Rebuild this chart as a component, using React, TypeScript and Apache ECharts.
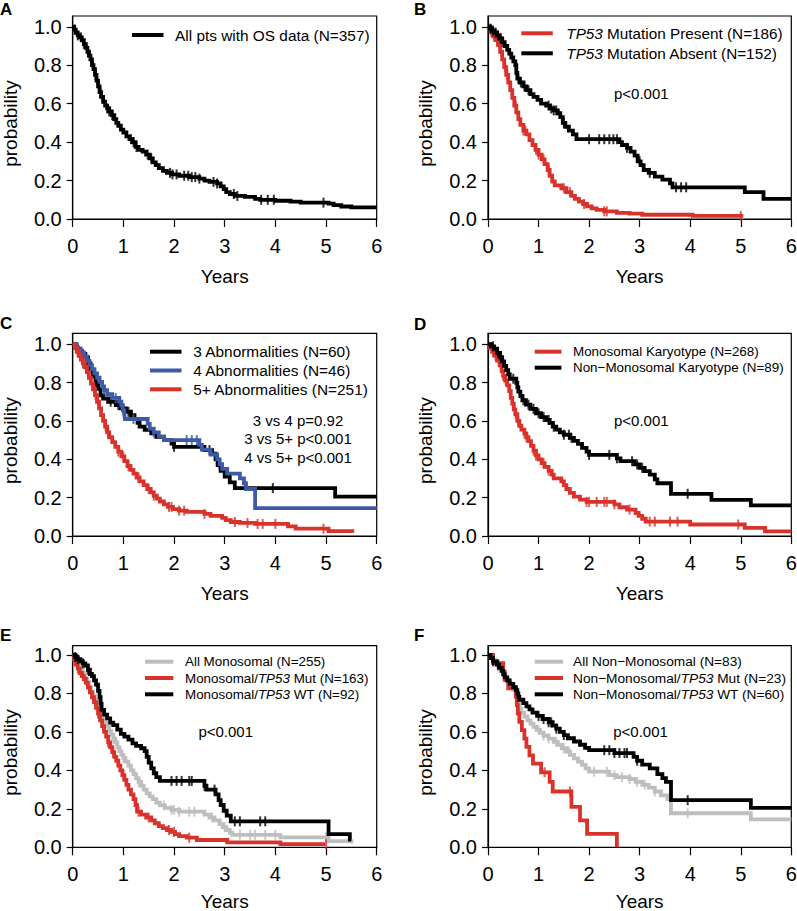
import React, { useEffect, useRef } from 'react';
import * as echarts from 'echarts';

const FONT = '"Liberation Sans", Arial, Helvetica, sans-serif';
const RED = '#d9322b';
const BLUE = '#3c5aa8';
const GREY = '#bebebe';
const BLACK = '#000000';

const PROB_TICKS = [0, 0.2, 0.4, 0.6, 0.8, 1.0];

// ---------- Panel A ----------
const A_ALL = [[0,1],[0.03,0.985],[0.06,0.97],[0.1,0.955],[0.14,0.945],[0.18,0.93],[0.22,0.91],[0.26,0.89],[0.29,0.87],[0.32,0.85],[0.35,0.83],[0.38,0.8],[0.41,0.78],[0.44,0.75],[0.47,0.72],[0.5,0.69],[0.53,0.66],[0.56,0.635],[0.6,0.61],[0.64,0.59],[0.68,0.575],[0.72,0.56],[0.77,0.54],[0.82,0.52],[0.86,0.5],[0.9,0.485],[0.95,0.465],[1.0,0.45],[1.06,0.43],[1.12,0.415],[1.18,0.4],[1.24,0.375],[1.3,0.36],[1.38,0.35],[1.45,0.335],[1.52,0.315],[1.58,0.295],[1.64,0.28],[1.7,0.265],[1.78,0.25],[1.86,0.24],[1.96,0.232],[2.1,0.225],[2.3,0.218],[2.5,0.21],[2.6,0.2],[2.7,0.193],[2.85,0.185],[2.92,0.17],[2.98,0.155],[3.03,0.14],[3.1,0.13],[3.2,0.12],[3.4,0.115],[3.6,0.105],[3.7,0.1],[4.0,0.095],[4.3,0.09],[4.5,0.085],[5.05,0.08],[5.15,0.072],[5.3,0.065],[5.5,0.06],[6.0,0.06]];
const A_ALL_CENS = [0.04,0.1,0.16,0.22,0.34,0.4,0.45,0.52,0.55,0.68,0.72,0.78,1.15,1.2,1.26,1.48,1.55,1.92,1.97,2.05,2.2,2.28,2.35,2.42,2.5,2.78,2.85,3.18,3.25,3.72,3.85,3.97,4.95];

// ---------- Panel B ----------
const B_MUT = [[0,1],[0.05,0.975],[0.1,0.95],[0.15,0.93],[0.2,0.905],[0.24,0.87],[0.28,0.83],[0.32,0.79],[0.36,0.75],[0.4,0.71],[0.44,0.67],[0.48,0.63],[0.52,0.59],[0.56,0.555],[0.6,0.52],[0.64,0.49],[0.7,0.46],[0.76,0.44],[0.82,0.41],[0.88,0.385],[0.94,0.36],[1.0,0.335],[1.06,0.31],[1.12,0.285],[1.18,0.255],[1.22,0.225],[1.27,0.195],[1.32,0.175],[1.45,0.16],[1.55,0.14],[1.65,0.12],[1.72,0.105],[1.8,0.09],[1.88,0.078],[1.96,0.066],[2.05,0.055],[2.15,0.047],[2.3,0.04],[2.55,0.032],[2.8,0.028],[3.05,0.022],[4.05,0.016],[5.05,0.016]];
const B_MUT_CENS = [0.06,0.12,0.18,0.34,0.38,0.55,0.7,0.74,0.95,1.0,1.1,1.2,1.5,1.62,1.9,2.3,2.35,5.0];
const B_WT = [[0,1],[0.04,0.99],[0.08,0.98],[0.13,0.97],[0.18,0.955],[0.23,0.94],[0.28,0.92],[0.33,0.9],[0.38,0.88],[0.42,0.86],[0.46,0.84],[0.5,0.82],[0.54,0.8],[0.56,0.76],[0.58,0.73],[0.63,0.71],[0.7,0.69],[0.76,0.67],[0.84,0.65],[0.9,0.635],[0.98,0.62],[1.05,0.6],[1.15,0.59],[1.22,0.575],[1.3,0.565],[1.38,0.55],[1.43,0.53],[1.48,0.5],[1.53,0.48],[1.6,0.46],[1.68,0.44],[1.75,0.415],[2.6,0.4],[2.65,0.385],[2.75,0.37],[2.82,0.35],[2.9,0.33],[2.96,0.3],[3.02,0.28],[3.08,0.255],[3.18,0.24],[3.3,0.22],[3.45,0.205],[3.6,0.185],[3.65,0.165],[5.08,0.14],[5.45,0.105],[6,0.105]];
const B_WT_CENS = [0.05,0.1,0.15,0.2,0.25,0.3,0.6,0.65,0.72,0.8,1.2,1.25,1.3,1.35,1.5,2.0,2.2,2.3,2.4,2.48,2.55,2.75,3.0,3.2,3.72,3.82,3.92];

// ---------- Panel C ----------
const C_3 = [[0,1],[0.05,0.983],[0.1,0.967],[0.15,0.95],[0.25,0.933],[0.3,0.9],[0.35,0.867],[0.4,0.833],[0.45,0.8],[0.5,0.767],[0.55,0.733],[0.6,0.717],[0.7,0.7],[0.85,0.683],[0.95,0.666],[1.05,0.648],[1.15,0.63],[1.22,0.61],[1.28,0.59],[1.32,0.57],[1.42,0.553],[1.55,0.535],[1.65,0.517],[1.8,0.5],[1.95,0.482],[2.0,0.465],[2.6,0.448],[2.75,0.43],[2.82,0.4],[2.86,0.37],[2.92,0.34],[3.0,0.31],[3.1,0.28],[3.2,0.25],[5.18,0.205],[6,0.205]];
const C_3_CENS = [0.2,0.45,0.75,0.9,1.0,1.1,2.0,2.7,2.85,2.9,3.95];
const C_4 = [[0,1],[0.08,0.978],[0.15,0.957],[0.22,0.935],[0.28,0.913],[0.33,0.891],[0.38,0.87],[0.43,0.848],[0.48,0.826],[0.53,0.804],[0.58,0.78],[0.62,0.76],[0.68,0.74],[0.78,0.72],[0.92,0.7],[0.96,0.68],[0.99,0.655],[1.02,0.632],[1.03,0.61],[1.48,0.585],[1.52,0.56],[1.6,0.54],[1.7,0.52],[1.8,0.5],[2.5,0.475],[2.55,0.45],[2.72,0.425],[2.85,0.4],[2.9,0.375],[2.95,0.35],[3.05,0.325],[3.3,0.3],[3.38,0.275],[3.42,0.245],[3.6,0.145],[6,0.145]];
const C_4_CENS = [0.1,0.18,0.25,0.62,0.85,1.0,1.2,1.6,2.25,2.35,2.45];
const C_5 = [[0,1],[0.04,0.98],[0.08,0.96],[0.12,0.94],[0.16,0.92],[0.2,0.9],[0.24,0.88],[0.28,0.855],[0.32,0.825],[0.36,0.795],[0.4,0.765],[0.44,0.735],[0.48,0.7],[0.52,0.665],[0.56,0.63],[0.6,0.6],[0.64,0.57],[0.68,0.54],[0.72,0.515],[0.78,0.49],[0.84,0.465],[0.9,0.44],[0.96,0.415],[1.02,0.39],[1.08,0.365],[1.14,0.345],[1.2,0.325],[1.26,0.305],[1.32,0.285],[1.4,0.265],[1.47,0.245],[1.54,0.228],[1.6,0.21],[1.66,0.195],[1.72,0.18],[1.8,0.165],[1.88,0.152],[1.98,0.14],[2.1,0.132],[2.25,0.126],[2.6,0.115],[2.72,0.105],[2.95,0.095],[3.02,0.083],[3.12,0.073],[3.3,0.068],[3.6,0.063],[4.25,0.05],[4.4,0.038],[5.05,0.025],[5.52,0.017]];
const C_5_CENS = [0.1,0.2,0.3,0.45,0.5,0.65,0.7,0.9,1.0,1.1,1.3,1.5,1.6,1.9,1.95,2.1,2.2,2.6,3.2,3.45,3.65,3.75,4.0,4.95];

// ---------- Panel D ----------
const D_MONO = [[0,1],[0.04,0.98],[0.08,0.96],[0.13,0.94],[0.18,0.915],[0.23,0.89],[0.27,0.86],[0.3,0.835],[0.34,0.81],[0.38,0.785],[0.42,0.755],[0.45,0.72],[0.48,0.69],[0.51,0.66],[0.54,0.635],[0.58,0.6],[0.62,0.575],[0.66,0.555],[0.72,0.535],[0.76,0.515],[0.8,0.495],[0.85,0.47],[0.9,0.445],[0.95,0.42],[1.0,0.4],[1.06,0.38],[1.12,0.36],[1.2,0.34],[1.26,0.32],[1.3,0.3],[1.45,0.285],[1.5,0.265],[1.55,0.245],[1.62,0.225],[1.7,0.205],[1.82,0.19],[1.95,0.178],[2.5,0.165],[2.6,0.15],[2.75,0.138],[2.92,0.12],[2.98,0.105],[3.05,0.09],[3.12,0.075],[4.0,0.06],[5.08,0.042],[5.48,0.024],[6,0.024]];
const D_MONO_CENS = [0.1,0.15,0.3,0.35,0.55,0.6,0.72,0.76,0.9,0.95,1.1,1.2,1.95,2.0,2.15,2.3,2.35,2.5,2.8,3.2,3.3,3.6,3.75,4.95];
const D_NON = [[0,1],[0.06,0.989],[0.12,0.977],[0.18,0.955],[0.24,0.932],[0.28,0.91],[0.32,0.887],[0.36,0.865],[0.4,0.843],[0.43,0.82],[0.56,0.798],[0.58,0.775],[0.6,0.753],[0.64,0.73],[0.68,0.708],[0.75,0.685],[0.84,0.663],[0.95,0.64],[1.05,0.62],[1.15,0.605],[1.22,0.59],[1.28,0.57],[1.35,0.555],[1.42,0.54],[1.5,0.528],[1.62,0.512],[1.7,0.496],[1.78,0.48],[1.86,0.46],[1.95,0.44],[2.0,0.423],[2.55,0.405],[2.62,0.39],[2.9,0.373],[3.0,0.355],[3.1,0.338],[3.2,0.32],[3.3,0.295],[3.35,0.275],[3.62,0.22],[4.42,0.188],[5.2,0.16],[6,0.16]];
const D_NON_CENS = [0.1,0.2,0.25,0.5,0.7,0.8,0.9,1.0,1.1,1.2,1.3,1.5,1.6,1.65,2.0,2.4,2.55,2.85,2.95,3.05,3.95];

// ---------- Panel E ----------
const E_ALL = [[0,1],[0.04,0.985],[0.08,0.965],[0.12,0.945],[0.16,0.925],[0.2,0.905],[0.24,0.88],[0.28,0.86],[0.32,0.835],[0.36,0.81],[0.4,0.79],[0.44,0.765],[0.48,0.74],[0.52,0.715],[0.56,0.69],[0.6,0.67],[0.64,0.65],[0.68,0.63],[0.72,0.605],[0.76,0.585],[0.8,0.565],[0.84,0.545],[0.88,0.52],[0.92,0.5],[0.96,0.48],[1.0,0.465],[1.04,0.445],[1.1,0.425],[1.15,0.4],[1.2,0.38],[1.25,0.36],[1.3,0.34],[1.35,0.32],[1.4,0.3],[1.46,0.28],[1.52,0.265],[1.58,0.25],[1.65,0.232],[1.72,0.218],[1.82,0.205],[1.95,0.195],[2.1,0.185],[2.6,0.17],[2.7,0.155],[2.8,0.14],[2.9,0.12],[2.96,0.105],[3.03,0.09],[3.1,0.075],[3.15,0.065],[4.1,0.052],[5.05,0.032],[5.5,0.02]];
const E_ALL_CENS = [0.3,0.45,0.6,0.7,0.8,1.0,1.3,1.8,1.95,2.0,2.1,2.3,2.4,2.75,3.0,3.3,3.5,3.6,3.8,4.0,5.0];
const E_MUT = [[0,1],[0.03,0.975],[0.06,0.95],[0.1,0.93],[0.14,0.905],[0.18,0.89],[0.22,0.875],[0.26,0.855],[0.3,0.83],[0.34,0.805],[0.38,0.78],[0.42,0.755],[0.46,0.725],[0.5,0.695],[0.54,0.66],[0.58,0.63],[0.62,0.6],[0.66,0.575],[0.7,0.545],[0.74,0.52],[0.78,0.495],[0.82,0.47],[0.86,0.45],[0.9,0.425],[0.94,0.4],[0.98,0.375],[1.02,0.35],[1.06,0.325],[1.1,0.3],[1.15,0.275],[1.2,0.25],[1.24,0.22],[1.27,0.185],[1.35,0.17],[1.45,0.155],[1.55,0.14],[1.62,0.125],[1.7,0.11],[1.78,0.1],[1.86,0.09],[1.94,0.08],[2.02,0.068],[2.1,0.058],[2.25,0.05],[2.45,0.038],[3.05,0.026],[4.1,0.016],[4.98,0.016]];
const E_MUT_CENS = [0.1,0.2,0.5,0.6,0.7,0.8,1.0,1.3,1.5,1.9,2.0,2.3,5.0];
const E_WT = [[0,1],[0.05,0.989],[0.1,0.978],[0.15,0.967],[0.2,0.956],[0.25,0.945],[0.3,0.923],[0.34,0.901],[0.38,0.89],[0.42,0.868],[0.46,0.846],[0.5,0.813],[0.53,0.78],[0.55,0.747],[0.57,0.714],[0.62,0.69],[0.68,0.67],[0.74,0.648],[0.8,0.635],[0.88,0.612],[0.95,0.59],[1.02,0.575],[1.1,0.56],[1.18,0.54],[1.25,0.527],[1.35,0.515],[1.42,0.5],[1.46,0.47],[1.5,0.44],[1.55,0.41],[1.6,0.385],[1.65,0.365],[1.72,0.345],[2.6,0.32],[2.64,0.3],[2.82,0.275],[2.88,0.245],[2.92,0.22],[2.98,0.19],[3.04,0.165],[3.12,0.135],[5.05,0.068],[5.47,0.04],[5.5,0.04]];
const E_WT_CENS = [0.05,0.1,0.2,0.3,1.95,2.05,2.15,2.3,2.35,2.6,2.8,3.2,3.3,3.7,3.8];

// ---------- Panel F ----------
const F_ALL = [[0,1],[0.05,0.988],[0.1,0.976],[0.15,0.964],[0.2,0.94],[0.25,0.916],[0.3,0.892],[0.35,0.868],[0.4,0.855],[0.45,0.843],[0.5,0.82],[0.55,0.795],[0.58,0.77],[0.6,0.745],[0.63,0.72],[0.66,0.7],[0.72,0.68],[0.78,0.66],[0.84,0.643],[0.9,0.626],[0.96,0.61],[1.03,0.595],[1.1,0.58],[1.2,0.565],[1.3,0.548],[1.38,0.532],[1.46,0.515],[1.55,0.498],[1.62,0.48],[1.7,0.462],[1.78,0.445],[1.86,0.428],[1.93,0.41],[2.0,0.393],[2.4,0.375],[2.55,0.365],[2.8,0.355],[2.92,0.34],[3.05,0.325],[3.18,0.31],[3.3,0.29],[3.42,0.27],[3.55,0.25],[3.62,0.177],[5.2,0.145],[6,0.145]];
const F_ALL_CENS = [0.1,0.2,1.0,1.1,1.2,1.35,1.5,1.6,2.1,2.35,2.5,2.65,2.8,2.95,3.1,3.3,3.95];
const F_MUT = [[0,1],[0.1,0.957],[0.3,0.913],[0.33,0.87],[0.4,0.826],[0.55,0.783],[0.57,0.739],[0.59,0.696],[0.62,0.652],[0.67,0.609],[0.72,0.565],[0.76,0.522],[0.82,0.478],[0.89,0.435],[1.05,0.39],[1.22,0.34],[1.28,0.29],[1.65,0.21],[1.82,0.14],[1.96,0.07],[2.55,0]];
const F_MUT_CENS = [1.12,1.62];
const F_WT = [[0,1],[0.05,0.983],[0.1,0.967],[0.17,0.95],[0.22,0.933],[0.27,0.917],[0.3,0.9],[0.33,0.883],[0.38,0.867],[0.43,0.85],[0.5,0.833],[0.55,0.817],[0.58,0.8],[0.6,0.783],[0.62,0.767],[0.7,0.75],[0.76,0.733],[0.82,0.717],[0.88,0.7],[0.97,0.683],[1.08,0.667],[1.2,0.65],[1.28,0.633],[1.35,0.617],[1.42,0.6],[1.5,0.583],[1.58,0.567],[1.7,0.55],[1.82,0.533],[1.92,0.517],[2.0,0.505],[2.5,0.49],[2.88,0.47],[2.95,0.45],[3.05,0.43],[3.2,0.41],[3.35,0.38],[3.45,0.36],[3.52,0.34],[3.62,0.245],[5.2,0.205],[6,0.205]];
const F_WT_CENS = [0.1,0.2,1.0,1.1,1.2,1.25,1.35,1.5,2.3,2.4,2.5,2.6,2.7,2.75,2.95,3.95];

const MINUS = '\u2212';

const PANELS = [
  { letter: 'A', curves: [
    { name: 'All pts with OS data (N=357)', data: A_ALL, cens: A_ALL_CENS, color: BLACK },
  ], notes: [] as string[] },
  { letter: 'B', curves: [
    { name: 'TP53 Mutation Present (N=186)', data: B_MUT, cens: B_MUT_CENS, color: RED },
    { name: 'TP53 Mutation Absent (N=152)', data: B_WT, cens: B_WT_CENS, color: BLACK },
  ], notes: ['p<0.001'] },
  { letter: 'C', curves: [
    { name: '3 Abnormalities (N=60)', data: C_3, cens: C_3_CENS, color: BLACK },
    { name: '4 Abnormalities (N=46)', data: C_4, cens: C_4_CENS, color: BLUE },
    { name: '5+ Abnormalities (N=251)', data: C_5, cens: C_5_CENS, color: RED },
  ], notes: ['3 vs 4 p=0.92', '3 vs 5+ p<0.001', '4 vs 5+ p<0.001'] },
  { letter: 'D', curves: [
    { name: 'Monosomal Karyotype (N=268)', data: D_MONO, cens: D_MONO_CENS, color: RED },
    { name: `Non${MINUS}Monosomal Karyotype (N=89)`, data: D_NON, cens: D_NON_CENS, color: BLACK },
  ], notes: ['p<0.001'] },
  { letter: 'E', curves: [
    { name: 'All Monosomal (N=255)', data: E_ALL, cens: E_ALL_CENS, color: GREY },
    { name: 'Monosomal/TP53 Mut (N=163)', data: E_MUT, cens: E_MUT_CENS, color: RED },
    { name: 'Monosomal/TP53 WT (N=92)', data: E_WT, cens: E_WT_CENS, color: BLACK },
  ], notes: ['p<0.001'] },
  { letter: 'F', curves: [
    { name: `All Non${MINUS}Monosomal (N=83)`, data: F_ALL, cens: F_ALL_CENS, color: GREY },
    { name: `Non${MINUS}Monosomal/TP53 Mut (N=23)`, data: F_MUT, cens: F_MUT_CENS, color: RED },
    { name: `Non${MINUS}Monosomal/TP53 WT (N=60)`, data: F_WT, cens: F_WT_CENS, color: BLACK },
  ], notes: ['p<0.001'] },
];

// ---------- layout (pixels) ----------
const LAYOUT = [
  { left: 72.7, top: 16, width: 304, height: 203, ymax: 1.056, nameGap: 49,
    legend: { left: 132, top: 27.3, fs: 15.4, lh: 15.4, gap: 5, w: 31.5, pad: 6.5 }, letter: [0, 9], notes: [] as number[][] },
  { left: 488, top: 16, width: 303.3, height: 203, ymax: 1.056, nameGap: 49,
    legend: { left: 521.3, top: 25.6, fs: 15.3, lh: 15.4, gap: 4.6, w: 31.5, pad: 8.5 }, letter: [414, 9], notes: [[641.3, 93.3]] },
  { left: 72.7, top: 333.3, width: 304, height: 202.7, ymax: 1.057, nameGap: 48.5,
    legend: { left: 150, top: 344, fs: 15.4, lh: 15.4, gap: 3.4, w: 31.5, pad: 6.8 }, letter: [0, 323.5], notes: [[298, 420], [298, 438.5], [298, 457.3]] },
  { left: 488, top: 333.3, width: 303.3, height: 202.7, ymax: 1.057, nameGap: 48.5,
    legend: { left: 534.7, top: 344.7, fs: 13.4, lh: 14, gap: 2, w: 26.7, pad: 6.6 }, letter: [414, 324], notes: [[641.3, 420]] },
  { left: 72.7, top: 645.7, width: 304, height: 201.6, ymax: 1.048, nameGap: 46,
    legend: { left: 145, top: 654.7, fs: 13.4, lh: 14, gap: 2.3, w: 28.3, pad: 6.7 }, letter: [0, 635], notes: [[225.7, 731.7]] },
  { left: 488, top: 645.7, width: 303.3, height: 201.6, ymax: 1.048, nameGap: 46,
    legend: { left: 534.7, top: 654.7, fs: 13.7, lh: 14, gap: 2.3, w: 28.3, pad: 5 }, letter: [414, 635.5], notes: [[640.5, 731.7]] },
];

function survAt(curve: number[][], t: number): number {
  let s = curve[0][1];
  for (const [tt, ss] of curve) {
    if (tt <= t) s = ss; else break;
  }
  return s;
}

function buildOption() {
  const grid: any[] = [];
  const xAxis: any[] = [];
  const yAxis: any[] = [];
  const series: any[] = [];
  const legend: any[] = [];
  const graphic: any[] = [];
  const axisLineStyle = { color: '#000', width: 1.2 };

  PANELS.forEach((p, i) => {
    const L = LAYOUT[i];
    grid.push({ left: L.left, top: L.top, width: L.width, height: L.height, show: true,
      borderColor: '#000', borderWidth: 1.2, backgroundColor: 'transparent', containLabel: false, outerBoundsMode: 'none' });
    xAxis.push({
      type: 'value', gridIndex: i, min: 0, max: 6, interval: 1,
      axisLine: { show: true, onZero: false, lineStyle: axisLineStyle },
      axisTick: { show: true, inside: false, length: 8, lineStyle: axisLineStyle },
      axisLabel: { show: true, color: '#000', fontSize: 20, fontFamily: FONT, margin: 17 },
      splitLine: { show: false },
      name: 'Years', nameLocation: 'middle', nameGap: L.nameGap,
      nameTextStyle: { color: '#000', fontSize: 19, lineHeight: 17, fontFamily: FONT },
    });
    yAxis.push({
      type: 'value', gridIndex: i, min: 0, max: L.ymax,
      axisLine: { show: true, onZero: false, lineStyle: axisLineStyle },
      axisTick: { show: true, inside: false, length: 6, lineStyle: axisLineStyle, customValues: PROB_TICKS },
      axisLabel: { show: true, color: '#000', fontSize: 20, fontFamily: FONT, margin: 11,
        customValues: PROB_TICKS, formatter: (v: number) => v.toFixed(1) },
      splitLine: { show: false },
      name: 'probability', nameLocation: 'middle', nameGap: 53, nameRotate: 90,
      nameTextStyle: { color: '#000', fontSize: 19, fontFamily: FONT, padding: [0, 12, 0, 0] },
    });
    p.curves.forEach((c, k) => {
      series.push({
        type: 'line', name: c.name, xAxisIndex: i, yAxisIndex: i, data: c.data, step: 'end',
        showSymbol: false, symbol: 'none', silent: true, z: 2 + k,
        lineStyle: { color: c.color, width: 3.8, cap: 'butt', join: 'miter' },
        itemStyle: { color: c.color },
      });
      series.push({
        type: 'scatter', name: c.name + ' (censored)', xAxisIndex: i, yAxisIndex: i,
        data: c.cens.map((t) => [t, survAt(c.data, t)]),
        symbol: 'rect', symbolSize: [2, 10], silent: true, z: 2 + k,
        itemStyle: { color: c.color },
      });
    });
    const lg = L.legend;
    legend.push({
      show: true, orient: 'vertical', left: lg.left, top: lg.top, padding: 0,
      itemWidth: lg.w, itemHeight: 4, itemGap: lg.gap, icon: 'rect', selectedMode: false,
      itemStyle: { borderWidth: 0 },
      data: p.curves.map((c) => ({ name: c.name, icon: 'rect' })),
      formatter: (n: string) => n.replace('TP53', '{i|TP53}'),
      textStyle: { color: '#000', fontSize: lg.fs, fontFamily: FONT, lineHeight: lg.lh, padding: [0, 0, 0, lg.pad],
        rich: { i: { fontStyle: 'italic', fontSize: lg.fs, fontFamily: FONT, lineHeight: lg.lh, color: '#000' } } },
    });
    graphic.push({ type: 'text', x: L.letter[0], y: L.letter[1], silent: true,
      style: { text: p.letter, fill: '#000', fontSize: 17, fontWeight: 'bold', fontFamily: FONT, align: 'left', verticalAlign: 'middle' } });
    p.notes.forEach((t, k) => {
      const pos = L.notes[k];
      graphic.push({ type: 'text', x: pos[0], y: pos[1], silent: true,
        style: { text: t, fill: '#000', fontSize: 15, fontFamily: FONT, align: 'center', verticalAlign: 'middle' } });
    });
  });

  return { animation: false, backgroundColor: '#fff', grid, xAxis, yAxis, series, legend, graphic };
}

export default function App() {
  const ref = useRef<HTMLDivElement>(null);
  useEffect(() => {
    if (!ref.current) return;
    const chart = echarts.init(ref.current, null, { renderer: 'svg' });
    chart.setOption(buildOption() as any);
    return () => chart.dispose();
  }, []);
  return <div ref={ref} style={{ position: 'absolute', left: 0, top: 0, width: 797, height: 911 }} />;
}
